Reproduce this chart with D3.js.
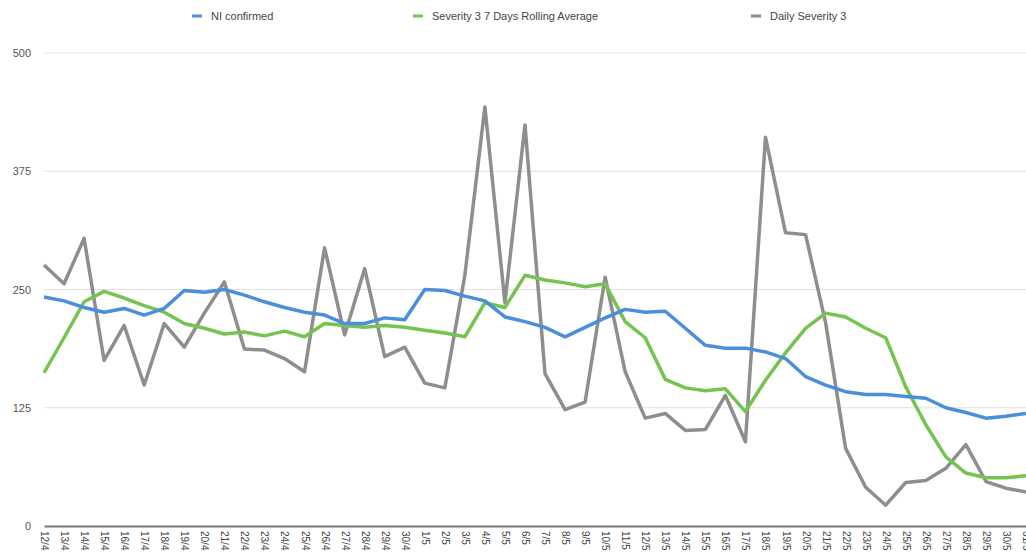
<!DOCTYPE html>
<html>
<head>
<meta charset="utf-8">
<script src="https://cdn.jsdelivr.net/npm/d3@7"></script>
<style>
  body { margin: 0; background: #fff; }
  svg { display: block; font-family: 'Liberation Sans', Arial, sans-serif; }
</style>
</head>
<body>
<svg id="chart" width="1026" height="557"></svg>
<script>
const dates = ['12/4','13/4','14/4','15/4','16/4','17/4','18/4','19/4','20/4','21/4','22/4','23/4','24/4','25/4','26/4','27/4','28/4','29/4','30/4',
  '1/5','2/5','3/5','4/5','5/5','6/5','7/5','8/5','9/5','10/5','11/5','12/5','13/5','14/5','15/5','16/5','17/5','18/5','19/5','20/5',
  '21/5','22/5','23/5','24/5','25/5','26/5','27/5','28/5','29/5','30/5','31/5']

const niConfirmed = [242,238,231,226,230,223,230,249,247,250,244,237,231,226,223,214,214,220,218,
  250,249,243,238,221,216,210,200,210,220,229,226,227,209,191,188,188,184,177,158,
  149,142,139,139,137,135,125,120,114,116,119]

const rollingAvg = [162,199,237,248,241,233,226,214,209,203,205,201,206,200,214,212,210,212,210,
  207,204,200,236,231,265,260,257,253,256,216,199,155,146,143,145,121,154,183,209,
  225,221,209,199,147,107,73,56,51,51,53]

const dailySev3 = [276,256,304,175,212,149,214,189,225,258,187,186,177,163,294,202,272,179,189,
  151,146,265,443,236,424,161,123,131,263,163,114,119,101,102,138,89,411,310,308,
  215,82,41,22,46,48,61,86,47,40,36]

const yTicks = [0, 125, 250, 375, 500]

const series = [
  { name: 'NI confirmed', values: niConfirmed, color: '#4a8fdc' },
  { name: 'Severity 3 7 Days Rolling Average', values: rollingAvg, color: '#75c451' },
  { name: 'Daily Severity 3', values: dailySev3, color: '#8e8e8e' }
]

const svg = d3.select('#chart')
const margin = { left: 44, right: 1026, top: 53, bottom: 526 }

const x = d3.scalePoint().domain(dates).range([margin.left, margin.right])
const y = d3.scaleLinear().domain([0, 500]).range([margin.bottom, margin.top])

// gridlines
svg.append('g')
  .selectAll('line')
  .data(yTicks.filter(d => d > 0))
  .enter().append('line')
  .attr('x1', margin.left).attr('x2', margin.right)
  .attr('y1', d => y(d)).attr('y2', d => y(d))
  .style('stroke', '#e0e0e0')
  .style('stroke-width', 1)

// y labels
svg.append('g')
  .selectAll('text')
  .data(yTicks)
  .enter().append('text')
  .attr('x', 31)
  .attr('y', d => y(d) + 4)
  .attr('text-anchor', 'end')
  .style('font-size', '11px')
  .style('fill', '#555')
  .text(d => d)

// x axis
const xAxis = d3.axisBottom(x).tickSize(0).tickPadding(0)
const gx = svg.append('g')
  .attr('transform', `translate(0,${margin.bottom})`)
  .call(xAxis)
gx.select('.domain').style('stroke', '#777').style('stroke-width', 2)
gx.selectAll('text')
  .attr('transform', 'rotate(90)')
  .attr('x', 5)
  .attr('y', 0)
  .attr('dy', '0.35em')
  .style('text-anchor', 'start')
  .style('font-size', '10px')
  .style('font-family', "'Liberation Sans', Arial, sans-serif")
  .style('fill', '#444')

// lines
const line = d3.line()
  .x((d, i) => x(dates[i]))
  .y(d => y(d))

svg.append('g')
  .selectAll('path')
  .data(series.slice().reverse())
  .enter().append('path')
  .attr('d', d => line(d.values))
  .style('fill', 'none')
  .style('stroke', d => d.color)
  .style('stroke-width', 3.5)
  .style('stroke-linejoin', 'round')

// legend
const legendX = [192, 413, 751]
const legend = svg.append('g')
  .selectAll('g')
  .data(series)
  .enter().append('g')
  .attr('transform', (d, i) => `translate(${legendX[i]},16)`)
legend.append('line')
  .attr('x1', 0).attr('x2', 10)
  .style('stroke', d => d.color)
  .style('stroke-width', 3)
legend.append('text')
  .attr('x', 19)
  .attr('y', 4)
  .style('font-size', '11px')
  .style('fill', '#444')
  .text(d => d.name)
</script>
</body>
</html>
